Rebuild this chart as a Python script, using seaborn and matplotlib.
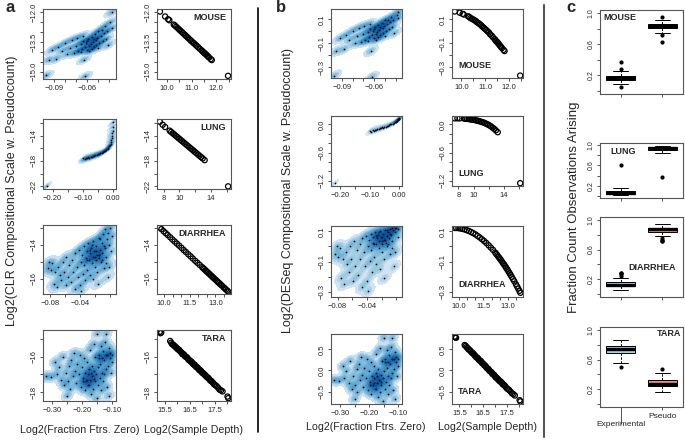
import matplotlib
matplotlib.use('Agg')
import matplotlib.pyplot as plt
from matplotlib.colors import LinearSegmentedColormap, PowerNorm
from matplotlib.lines import Line2D
import pandas as pd
import seaborn as sns

# ---------------- MOUSE ----------------
mouse_zero = [-0.097, -0.095, -0.092, -0.088, -0.086, -0.083, -0.080, -0.078, -0.076, -0.074,
              -0.072, -0.070, -0.069, -0.068, -0.066, -0.065, -0.064, -0.063, -0.062, -0.062,
              -0.061, -0.060, -0.059, -0.058, -0.057, -0.056, -0.056, -0.055, -0.054, -0.053,
              -0.052, -0.052, -0.051, -0.050, -0.049, -0.048, -0.047, -0.046, -0.045, -0.044,
              -0.043, -0.042, -0.041, -0.039, -0.038, -0.038, -0.060, -0.058, -0.064, -0.054,
              -0.050, -0.066]
mouse_clr = [-15.20, -14.40, -13.90, -14.35, -13.75, -13.95, -13.55, -14.10, -13.80, -13.40,
             -14.05, -13.70, -13.30, -13.95, -13.60, -13.85, -13.45, -14.40, -15.25, -13.75,
             -13.55, -13.90, -13.35, -13.70, -13.60, -13.85, -13.25, -13.50, -13.75, -13.10,
             -13.40, -13.65, -13.30, -12.95, -13.55, -13.20, -12.90, -13.45, -13.05, -12.70,
             -13.35, -12.95, -13.65, -12.50, -12.00, -12.80, -13.45, -13.95, -13.20, -13.35,
             -13.80, -14.00]
mouse_deseq = [-0.370, -0.165, -0.060, -0.150, -0.032, -0.070, 0.005, -0.100, -0.040, 0.030,
               -0.090, -0.025, 0.045, -0.070, -0.003, -0.050, 0.020, -0.165, -0.380, -0.032,
               0.005, -0.060, 0.038, -0.025, -0.003, -0.050, 0.052, 0.012, -0.032, 0.073,
               0.030, -0.014, 0.045, 0.090, 0.005, 0.060, 0.096, 0.020, 0.080, 0.118,
               0.038, 0.090, -0.014, 0.135, 0.163, 0.108, 0.020, -0.070, 0.060, 0.038,
               -0.040, -0.080]
mouse_depth = [9.72, 9.93, 10.05, 10.10, 10.28, 10.33, 10.38, 10.44, 10.50, 10.55,
               10.61, 10.66, 10.72, 10.77, 10.83, 10.88, 10.94, 10.99, 11.05, 11.10,
               11.16, 11.21, 11.27, 11.33, 11.40, 11.48, 11.55, 11.63, 11.78, 11.82, 12.48,
               11.44, 11.52, 11.59, 11.67, 11.71]
mouse_depth_clr = [-11.96, -12.21, -12.35, -12.40, -12.62, -12.67, -12.73, -12.80, -12.87, -12.93,
                   -13.00, -13.06, -13.13, -13.19, -13.26, -13.32, -13.39, -13.45, -13.52, -13.57,
                   -13.64, -13.70, -13.77, -13.84, -13.92, -14.02, -14.10, -14.19, -14.37, -14.42,
                   -15.22, -13.97, -14.06, -14.14, -14.24, -14.29]
mouse_depth_deseq = [0.165, 0.155, 0.145, 0.140, 0.125, 0.120, 0.110, 0.105, 0.098, 0.092,
                     0.085, 0.075, 0.068, 0.060, 0.050, 0.040, 0.030, 0.020, 0.010, 0.000,
                     -0.010, -0.025, -0.035, -0.050, -0.065, -0.085, -0.100, -0.120, -0.155, -0.165,
                     -0.370, -0.075, -0.092, -0.110, -0.130, -0.140]

# ---------------- LUNG ----------------
lung_zero = [-0.220, -0.098, -0.094, -0.090, -0.086, -0.082, -0.078, -0.074, -0.070, -0.066,
             -0.062, -0.058, -0.054, -0.050, -0.046, -0.042, -0.038, -0.034, -0.030, -0.026,
             -0.022, -0.018, -0.015, -0.012, -0.010, -0.008, -0.006, -0.005, -0.004, -0.003,
             -0.002, -0.001, -0.001, 0.000]
lung_clr = [-22.0, -17.6, -17.7, -17.5, -17.6, -17.45, -17.5, -17.3, -17.35, -17.2,
            -17.25, -17.0, -17.1, -16.9, -16.95, -16.75, -16.8, -16.6, -16.5, -16.4,
            -16.3, -16.1, -15.9, -15.7, -15.5, -15.3, -15.0, -14.7, -14.4, -14.0,
            -13.6, -13.2, -12.6, -11.9]
lung_deseq = [-1.25, -0.13, -0.15, -0.11, -0.13, -0.11, -0.12, -0.09, -0.10, -0.08,
              -0.085, -0.06, -0.07, -0.045, -0.05, -0.03, -0.035, -0.015, 0.0, 0.01,
              0.02, 0.03, 0.045, 0.055, 0.06, 0.07, 0.08, 0.09, 0.10, 0.11,
              0.115, 0.12, 0.125, 0.13]
lung_depth = [7.51, 7.87, 8.18, 8.76, 8.95, 9.15, 9.35, 9.55, 9.75, 9.95,
              10.15, 10.35, 10.55, 10.75, 10.95, 11.15, 11.35, 11.55, 11.75, 11.95,
              12.15, 12.35, 12.55, 12.75, 12.95, 13.20, 16.18]
lung_depth_clr = [-11.78, -12.26, -12.62, -13.20, -13.40, -13.61, -13.82, -14.03, -14.24, -14.45,
                  -14.66, -14.87, -15.08, -15.29, -15.50, -15.71, -15.92, -16.13, -16.34, -16.55,
                  -16.76, -16.97, -17.18, -17.39, -17.60, -17.87, -22.03]
lung_depth_deseq = [0.13, 0.13, 0.13, 0.125, 0.12, 0.12, 0.115, 0.11, 0.105, 0.10,
                    0.095, 0.085, 0.08, 0.07, 0.06, 0.05, 0.04, 0.025, 0.01, -0.005,
                    -0.025, -0.045, -0.07, -0.095, -0.125, -0.165, -1.25]

# ---------------- DIARRHEA ----------------
diarrhea_zero = [-0.083, -0.081, -0.079, -0.077, -0.075, -0.073, -0.071, -0.069, -0.067, -0.065,
                 -0.063, -0.061, -0.059, -0.058, -0.056, -0.054, -0.052, -0.050, -0.049, -0.047,
                 -0.046, -0.044, -0.043, -0.041, -0.040, -0.039, -0.037, -0.036, -0.035, -0.034,
                 -0.033, -0.032, -0.031, -0.030, -0.029, -0.028, -0.027, -0.026, -0.025, -0.024,
                 -0.023, -0.022, -0.021, -0.020, -0.019, -0.018, -0.017, -0.016, -0.015, -0.014,
                 -0.013, -0.012, -0.011, -0.010, -0.009, -0.008, -0.007, -0.006, -0.005, -0.004,
                 -0.003, -0.002, -0.001, 0.000, 0.002, 0.003, -0.024, -0.019, -0.015, -0.011,
                 -0.027, -0.020, -0.008, -0.013, -0.030, -0.005, -0.038, -0.022, -0.017, -0.001]
diarrhea_clr = [-15.4, -15.0, -15.5, -15.1, -16.3, -15.6, -16.5, -15.3, -15.8, -16.1,
                -15.0, -15.6, -16.4, -14.7, -15.9, -15.2, -16.2, -14.9, -15.6, -16.6,
                -14.5, -15.3, -15.9, -14.3, -16.4, -15.0, -14.6, -15.7, -14.1, -15.2,
                -16.1, -14.8, -14.4, -15.5, -13.9, -14.9, -15.8, -14.5, -14.2, -15.1,
                -14.7, -13.8, -14.4, -15.3, -14.9, -14.1, -14.6, -16.3, -13.6, -14.8,
                -14.3, -15.0, -13.9, -14.5, -13.4, -15.4, -14.2, -13.1, -14.7, -13.7,
                -15.9, -13.3, -14.0, -13.0, -14.4, -13.5, -14.0, -14.4, -14.6, -14.9,
                -14.3, -14.7, -14.1, -13.7, -14.9, -15.1, -16.7, -16.0, -15.6, -15.3]
diarrhea_deseq = [-0.053, 0.001, -0.068, -0.012, -0.209, -0.083, -0.250, -0.039, -0.116, -0.170,
                  0.001, -0.083, -0.229, 0.034, -0.133, -0.025, -0.189, 0.013, -0.083, -0.271,
                  0.054, -0.039, -0.133, 0.071, -0.229, 0.001, 0.044, -0.099, 0.085, -0.025,
                  -0.170, 0.024, 0.063, -0.068, 0.098, 0.013, -0.116, 0.054, 0.078, -0.012,
                  0.034, 0.103, 0.063, -0.039, 0.013, 0.085, 0.044, -0.209, 0.111, 0.024,
                  0.071, 0.001, 0.098, 0.054, 0.117, -0.053, 0.078, 0.122, 0.034, 0.107,
                  -0.133, 0.119, 0.092, 0.122, 0.063, 0.114, 0.092, 0.063, 0.044, 0.013,
                  0.071, 0.034, 0.085, 0.107, 0.013, -0.012, -0.293, -0.151, -0.083, -0.039]
diarrhea_depth = [9.75, 9.85, 9.98, 10.10, 10.22, 10.36, 10.49, 10.62, 10.75, 10.88,
                  11.02, 11.15, 11.28, 11.42, 11.55, 11.68, 11.82, 11.95, 12.08, 12.22,
                  12.35, 12.48, 12.62, 12.75, 12.88, 13.02, 13.15, 13.30, 13.48, 13.62, 13.75,
                  12.29, 12.42, 12.55, 12.69, 12.82, 12.95, 13.09, 13.22, 13.38, 13.55, 13.69]
diarrhea_depth_clr = [-13.00, -13.09, -13.22, -13.33, -13.44, -13.57, -13.70, -13.82, -13.94, -14.06,
                      -14.19, -14.32, -14.44, -14.57, -14.69, -14.82, -14.95, -15.07, -15.19, -15.32,
                      -15.44, -15.57, -15.70, -15.82, -15.94, -16.07, -16.20, -16.34, -16.51, -16.64,
                      -16.76, -15.39, -15.51, -15.63, -15.76, -15.89, -16.01, -16.14, -16.26, -16.41,
                      -16.57, -16.70]
diarrhea_depth_deseq = [0.122, 0.122, 0.121, 0.119, 0.116, 0.112, 0.107, 0.102, 0.095, 0.088,
                        0.079, 0.069, 0.059, 0.047, 0.035, 0.022, 0.007, -0.008, -0.023, -0.041,
                        -0.059, -0.078, -0.099, -0.119, -0.141, -0.165, -0.188, -0.216, -0.251, -0.279,
                        -0.307, -0.051, -0.069, -0.088, -0.110, -0.130, -0.152, -0.177, -0.201, -0.231,
                        -0.265, -0.294]

# ---------------- TARA ----------------
tara_zero = [-0.322, -0.305, -0.290, -0.285, -0.278, -0.270, -0.265, -0.260, -0.255, -0.250,
             -0.248, -0.243, -0.240, -0.236, -0.232, -0.228, -0.225, -0.220, -0.216, -0.212,
             -0.208, -0.205, -0.202, -0.198, -0.195, -0.192, -0.190, -0.187, -0.184, -0.182,
             -0.180, -0.177, -0.175, -0.173, -0.170, -0.168, -0.166, -0.164, -0.162, -0.160,
             -0.158, -0.156, -0.154, -0.152, -0.150, -0.148, -0.146, -0.144, -0.142, -0.140,
             -0.138, -0.136, -0.134, -0.132, -0.130, -0.128, -0.126, -0.124, -0.122, -0.120,
             -0.118, -0.116, -0.114, -0.112, -0.110, -0.108, -0.106, -0.104, -0.102, -0.100,
             -0.183, -0.172, -0.160, -0.196, -0.176, -0.145, -0.134, -0.120]
tara_clr = [-17.10, -17.15, -16.30, -17.00, -16.60, -17.30, -16.00, -17.60, -16.90, -18.20,
            -17.40, -16.50, -17.80, -16.20, -17.10, -15.80, -16.80, -17.50, -16.40, -17.00,
            -15.90, -17.70, -16.60, -17.20, -16.10, -17.90, -16.90, -17.40, -16.30, -17.00,
            -17.60, -16.70, -15.60, -17.30, -18.10, -16.50, -17.10, -17.80, -15.30, -16.80,
            -17.40, -16.00, -17.00, -18.35, -14.70, -16.60, -17.60, -15.90, -17.20, -16.40,
            -15.40, -17.90, -16.90, -15.70, -17.40, -16.20, -17.00, -15.20, -16.70, -14.70,
            -17.70, -15.90, -16.50, -18.20, -15.50, -16.10, -15.80, -16.90, -16.30, -15.90,
            -17.30, -16.90, -17.25, -17.40, -17.60, -16.10, -16.10, -15.90]
tara_deseq = [-0.22, -0.24, 0.11, -0.18, -0.01, -0.30, 0.23, -0.43, -0.14, -0.67,
              -0.34, 0.03, -0.51, 0.15, -0.22, 0.32, -0.10, -0.38, 0.07, -0.18,
              0.28, -0.47, -0.01, -0.26, 0.19, -0.55, -0.14, -0.34, 0.11, -0.18,
              -0.43, -0.05, 0.40, -0.30, -0.63, 0.03, -0.22, -0.51, 0.52, -0.10,
              -0.34, 0.23, -0.18, -0.73, 0.77, -0.01, -0.43, 0.28, -0.26, 0.07,
              0.48, -0.55, -0.14, 0.36, -0.34, 0.15, -0.18, 0.56, -0.05, 0.77,
              -0.47, 0.28, 0.03, -0.67, 0.44, 0.19, 0.32, -0.14, 0.11, 0.28,
              -0.30, -0.14, -0.28, -0.34, -0.43, 0.19, 0.19, 0.28]
tara_depth = [15.30, 15.33, 15.36, 15.72, 15.80, 15.88, 15.95, 16.02, 16.08, 16.15,
              16.21, 16.27, 16.33, 16.40, 16.46, 16.52, 16.58, 16.64, 16.70, 16.76,
              16.82, 16.88, 16.94, 17.00, 17.06, 17.12, 17.18, 17.25, 17.32, 17.40,
              17.48, 17.58, 17.70, 17.82, 18.02, 18.05,
              15.76, 15.84, 15.91, 15.98, 16.05, 16.12, 16.18, 16.24, 16.30, 16.36,
              16.43, 16.49, 16.55, 16.61, 16.67, 16.73, 16.79, 16.85, 16.91, 16.97,
              17.03, 17.09, 17.15, 17.22, 17.29, 17.36, 17.44, 17.53, 17.64, 17.76]
tara_depth_clr = [-14.60, -14.68, -14.64, -15.12, -15.30, -15.38, -15.47, -15.58, -15.62, -15.74,
                  -15.86, -15.88, -16.00, -16.05, -16.18, -16.24, -16.30, -16.42, -16.46, -16.58,
                  -16.62, -16.74, -16.78, -16.90, -16.96, -17.04, -17.14, -17.20, -17.34, -17.42,
                  -17.56, -17.66, -17.86, -17.96, -18.25, -18.34,
                  -15.22, -15.33, -15.43, -15.52, -15.60, -15.70, -15.78, -15.86, -15.95, -16.02,
                  -16.12, -16.20, -16.28, -16.35, -16.45, -16.52, -16.60, -16.68, -16.77, -16.84,
                  -16.92, -17.00, -17.08, -17.18, -17.27, -17.36, -17.48, -17.60, -17.75, -17.90]
tara_depth_deseq = [0.80, 0.78, 0.77, 0.60, 0.55, 0.50, 0.47, 0.42, 0.40, 0.35,
                    0.31, 0.29, 0.24, 0.22, 0.17, 0.14, 0.11, 0.06, 0.04, -0.01,
                    -0.03, -0.08, -0.10, -0.15, -0.18, -0.21, -0.25, -0.28, -0.33, -0.36,
                    -0.42, -0.46, -0.54, -0.59, -0.70, -0.73,
                    0.58, 0.53, 0.49, 0.45, 0.41, 0.37, 0.33, 0.30, 0.27, 0.23,
                    0.19, 0.16, 0.12, 0.09, 0.05, 0.02, -0.02, -0.05, -0.09, -0.12,
                    -0.16, -0.19, -0.23, -0.26, -0.30, -0.34, -0.39, -0.44, -0.50, -0.56]

# ---------------- panel c: fraction of counts ----------------
groups = ['Experimental', 'Pseudo']
mouse_exp = [0.05, 0.09, 0.11, 0.13, 0.135, 0.14, 0.15, 0.16, 0.165, 0.165,
             0.17, 0.175, 0.18, 0.19, 0.19, 0.21, 0.26, 0.28, 0.37]
mouse_pseudo = [0.63, 0.72, 0.74, 0.79, 0.81, 0.81, 0.82, 0.825, 0.83, 0.835,
                0.835, 0.84, 0.85, 0.86, 0.865, 0.87, 0.89, 0.91, 0.95]
lung_exp = [0.01, 0.02, 0.03, 0.03, 0.04, 0.05, 0.06, 0.06, 0.07, 0.09, 0.10, 0.11, 0.15, 0.60]
lung_pseudo = [0.38, 0.85, 0.88, 0.90, 0.91, 0.93, 0.94, 0.95, 0.95, 0.96, 0.97, 0.97, 0.98, 0.99]
diarrhea_exp = [0.05, 0.07, 0.09, 0.10, 0.10, 0.105, 0.11, 0.11, 0.115, 0.12, 0.12, 0.12, 0.125,
                0.13, 0.13, 0.135, 0.14, 0.145, 0.15, 0.16, 0.19, 0.22, 0.25, 0.27, 0.28, 0.29]
diarrhea_pseudo = [0.95, 0.93, 0.91, 0.90, 0.90, 0.895, 0.89, 0.89, 0.885, 0.88, 0.88, 0.88, 0.875,
                   0.87, 0.87, 0.865, 0.86, 0.855, 0.85, 0.84, 0.81, 0.78, 0.75, 0.73, 0.72, 0.71]
tara_exp = [0.50, 0.56, 0.62, 0.66, 0.69, 0.70, 0.72, 0.73, 0.74, 0.75, 0.76, 0.77, 0.79,
            0.80, 0.82, 0.84, 0.86]
tara_pseudo = [0.16, 0.19, 0.21, 0.23, 0.24, 0.25, 0.26, 0.27, 0.27, 0.28, 0.29, 0.31, 0.32,
               0.34, 0.38, 0.42, 0.47]

W, H = 685, 440
MINUS = '\u2212'

sns.set_style('ticks')
plt.rcParams['font.family'] = ['Liberation Sans', 'DejaVu Sans']

ss_cmap = LinearSegmentedColormap.from_list(
    'smooth', ['#F7FBFF', '#DEEBF7', '#C6DBEF', '#9ECAE1', '#6BAED6', '#4292C6', '#2171B5', '#08519C'])

fig = plt.figure(figsize=(6.85, 4.4), dpi=100)


def add_ax(l, t, r, b):
    return fig.add_axes([l / W, 1 - b / H, (r - l) / W, (b - t) / H])


def lab(v):
    return v.replace('-', MINUS)


def style(ax, xt, xl, yt, yl, xlim, ylim):
    ax.set_xlim(*xlim)
    ax.set_ylim(*ylim)
    ax.set_xticks(xt)
    ax.set_xticklabels([lab(s) for s in xl])
    ax.set_yticks(yt)
    ax.set_yticklabels([lab(s) for s in yl], rotation=90, va='center')
    ax.set_xlabel('')
    ax.set_ylabel('')
    for s in ax.spines.values():
        s.set_color('#555555')
        s.set_linewidth(0.8)
    ax.tick_params(length=2.5, width=0.6, color='#333333', labelsize=5.5, pad=1.5)


def smooth(ax, x, y, bw):
    sns.kdeplot(x=x, y=y, fill=True, cmap=ss_cmap, levels=16, thresh=0.015,
                bw_adjust=bw, norm=PowerNorm(0.45), ax=ax)
    sns.scatterplot(x=x, y=y, s=1.5, color='black', linewidth=0, ax=ax)


def depth_plot(ax, x, y):
    sns.scatterplot(x=x, y=y, s=14, marker='o', facecolor='none', edgecolor='black',
                    linewidth=0.9, ax=ax)


def txt(x, y, s, **kw):
    fig.text(x / W, 1 - y / H, s, **kw)


bold = dict(fontsize=6.5, fontweight='bold', va='center')

# ---------------- panels a and b ----------------
rows_a = [(9, 79), (119, 189), (225, 294), (330, 401)]
rows_b = [(9, 78), (116, 186), (226, 297), (334, 404)]
cols_a = [(43, 116), (157, 231)]
cols_b = [(331, 402), (452, 523)]

sets = [
    dict(name='MOUSE', zero=mouse_zero, clr=mouse_clr, deseq=mouse_deseq, bw=0.42,
         depth=mouse_depth, dclr=mouse_depth_clr, ddeseq=mouse_depth_deseq,
         zlim=(-0.1, -0.034), zt=[-0.09, -0.08, -0.07, -0.06, -0.05, -0.04],
         zl=['-0.09', '', '', '-0.06', '', ''],
         dlim=(9.6, 12.6), dt=[10.0, 10.5, 11.0, 11.5, 12.0, 12.5],
         dl=['10.0', '', '11.0', '', '12.0', ''],
         clim=(-15.38, -11.83), ct=[-15.0, -14.5, -14.0, -13.5, -13.0, -12.5, -12.0],
         cl=['-15.0', '', '', '-13.5', '', '', '-12.0'],
         qlim=(-0.39, 0.186), qt=[-0.3, -0.2, -0.1, 0.0, 0.1],
         ql=['-0.3', '', '-0.1', '', '0.1']),
    dict(name='LUNG', zero=lung_zero, clr=lung_clr, deseq=lung_deseq, bw=0.3,
         depth=lung_depth, dclr=lung_depth_clr, ddeseq=lung_depth_deseq,
         zlim=(-0.232, 0.01), zt=[-0.20, -0.15, -0.10, -0.05, 0.0],
         zl=['-0.20', '', '-0.10', '', '0.00'],
         dlim=(7.15, 16.55), dt=[8, 10, 12, 14, 16], dl=['8', '10', '', '14', ''],
         clim=(-22.45, -11.35), ct=[-22, -20, -18, -16, -14, -12],
         cl=['-22', '', '-18', '', '-14', ''],
         qlim=(-1.31, 0.18), qt=[-1.2, -1.0, -0.8, -0.6, -0.4, -0.2, 0.0],
         ql=['-1.2', '', '', '-0.6', '', '', '0.0']),
    dict(name='DIARRHEA', zero=diarrhea_zero, clr=diarrhea_clr, deseq=diarrhea_deseq, bw=0.45,
         depth=diarrhea_depth, dclr=diarrhea_depth_clr, ddeseq=diarrhea_depth_deseq,
         zlim=(-0.089, 0.008), zt=[-0.08, -0.06, -0.04, -0.02, 0.0],
         zl=['-0.08', '', '-0.04', '', ''],
         dlim=(9.59, 13.91), dt=[10.0, 10.5, 11.0, 11.5, 12.0, 12.5, 13.0, 13.5],
         dl=['10.0', '', '', '11.5', '', '', '13.0', ''],
         clim=(-16.9, -12.85), ct=[-16, -15, -14, -13], cl=['-16', '', '-14', ''],
         qlim=(-0.335, 0.135), qt=[-0.3, -0.2, -0.1, 0.0, 0.1],
         ql=['-0.3', '', '-0.1', '', '0.1']),
    dict(name='TARA', zero=tara_zero, clr=tara_clr, deseq=tara_deseq, bw=0.4,
         depth=tara_depth, dclr=tara_depth_clr, ddeseq=tara_depth_deseq,
         zlim=(-0.331, -0.087), zt=[-0.30, -0.25, -0.20, -0.15, -0.10],
         zl=['-0.30', '', '-0.20', '', '-0.10'],
         dlim=(15.19, 18.16), dt=[15.5, 16.0, 16.5, 17.0, 17.5, 18.0],
         dl=['15.5', '', '16.5', '', '17.5', ''],
         clim=(-18.5, -14.5), ct=[-18, -17, -16, -15], cl=['-18', '', '-16', ''],
         qlim=(-0.79, 0.86), qt=[-0.5, 0.0, 0.5], ql=['-0.5', '0.0', '0.5']),
]

for i, d in enumerate(sets):
    # panel a: CLR
    top, bot = rows_a[i]
    ax = add_ax(cols_a[0][0], top, cols_a[0][1], bot)
    smooth(ax, d['zero'], d['clr'], d['bw'])
    style(ax, d['zt'], d['zl'], d['ct'], d['cl'], d['zlim'], d['clim'])
    ax = add_ax(cols_a[1][0], top, cols_a[1][1], bot)
    depth_plot(ax, d['depth'], d['dclr'])
    style(ax, d['dt'], d['dl'], d['ct'], d['cl'], d['dlim'], d['clim'])
    txt(cols_a[1][1] - 5, top + 8, d['name'], ha='right', **bold)

    # panel b: DESeq
    top, bot = rows_b[i]
    ax = add_ax(cols_b[0][0], top, cols_b[0][1], bot)
    smooth(ax, d['zero'], d['deseq'], d['bw'])
    style(ax, d['zt'], d['zl'], d['qt'], d['ql'], d['zlim'], d['qlim'])
    ax = add_ax(cols_b[1][0], top, cols_b[1][1], bot)
    depth_plot(ax, d['depth'], d['ddeseq'])
    style(ax, d['dt'], d['dl'], d['qt'], d['ql'], d['dlim'], d['qlim'])
    txt(cols_b[1][0] + 6, bot - 13, d['name'], ha='left', **bold)

# ---------------- panel c ----------------
rows_c = [(10, 94), (143, 198), (217, 297), (327, 407)]
box_sets = [(mouse_exp, mouse_pseudo), (lung_exp, lung_pseudo),
            (diarrhea_exp, diarrhea_pseudo), (tara_exp, tara_pseudo)]
c_names = [('MOUSE', 603, 18, 'left'), ('LUNG', 610, 152, 'left'),
           ('DIARRHEA', 628, 267, 'left'), ('TARA', 681, 334, 'right')]

for i, (exp, ps) in enumerate(box_sets):
    top, bot = rows_c[i]
    ax = add_ax(600, top, 683, bot)
    df = pd.DataFrame({'group': [groups[0]] * len(exp) + [groups[1]] * len(ps),
                       'value': exp + ps})
    sns.boxplot(data=df, x='group', y='value', hue='group', order=groups, hue_order=groups,
                palette=['#a9d0e8', '#f08a84'], saturation=1, width=0.7, legend=False,
                linecolor='black', linewidth=0.7, fliersize=2,
                medianprops=dict(linewidth=2.4, color='black'),
                whiskerprops=dict(linestyle=(0, (2.5, 1.5))),
                flierprops=dict(marker='o', markersize=2, markerfacecolor='black',
                                markeredgecolor='black'),
                ax=ax)
    ax.set_xlim(-0.5, 1.5)
    if i == 3:
        xl = ['\nExperimental', 'Pseudo']
    else:
        xl = ['', '']
    style(ax, [0, 1], xl, [0.0, 0.2, 0.4, 0.6, 0.8, 1.0], ['', '0.2', '', '0.6', '', '1.0'],
          (-0.5, 1.5), (-0.04, 1.04))
    ax.tick_params(axis='x', labelsize=6)
    ax.tick_params(axis='y', labelsize=5)
    if i == 3:
        ax.xaxis.get_major_ticks()[0].tick1line.set_markersize(12)
    name, x, y, ha = c_names[i]
    txt(x, y, name, ha=ha, **bold)

# ---------------- labels and separators ----------------
txt(5, 8, 'a', fontsize=12, fontweight='bold', ha='left', va='center')
txt(276, 8, 'b', fontsize=12, fontweight='bold', ha='left', va='center')
txt(566, 8, 'c', fontsize=12, fontweight='bold', ha='left', va='center')

txt(12, 191, 'Log2(CLR Compositional Scale w. Pseudocount)', rotation=90,
    ha='center', va='center', fontsize=9)
txt(288, 190, 'Log2(DESeq Compositional Scale w. Pseudocount)', rotation=90,
    ha='center', va='center', fontsize=9)
txt(574, 207, 'Fraction Count Observations Arising', rotation=90,
    ha='center', va='center', fontsize=9.5)

txt(80, 430, 'Log2(Fraction Ftrs. Zero)', ha='center', va='center', fontsize=7.7)
txt(193, 430, 'Log2(Sample Depth)', ha='center', va='center', fontsize=7.7)
txt(366, 427, 'Log2(Fraction Ftrs. Zero)', ha='center', va='center', fontsize=7.7)
txt(488, 427, 'Log2(Sample Depth)', ha='center', va='center', fontsize=7.7)

fig.add_artist(Line2D([258 / W, 258 / W], [1 - 8 / H, 1 - 432 / H], color='black', lw=1.2))
fig.add_artist(Line2D([544 / W, 544 / W], [1 - 5 / H, 1 - 437 / H], color='#555555', lw=1.5))

fig.savefig('out.png', dpi=100)
